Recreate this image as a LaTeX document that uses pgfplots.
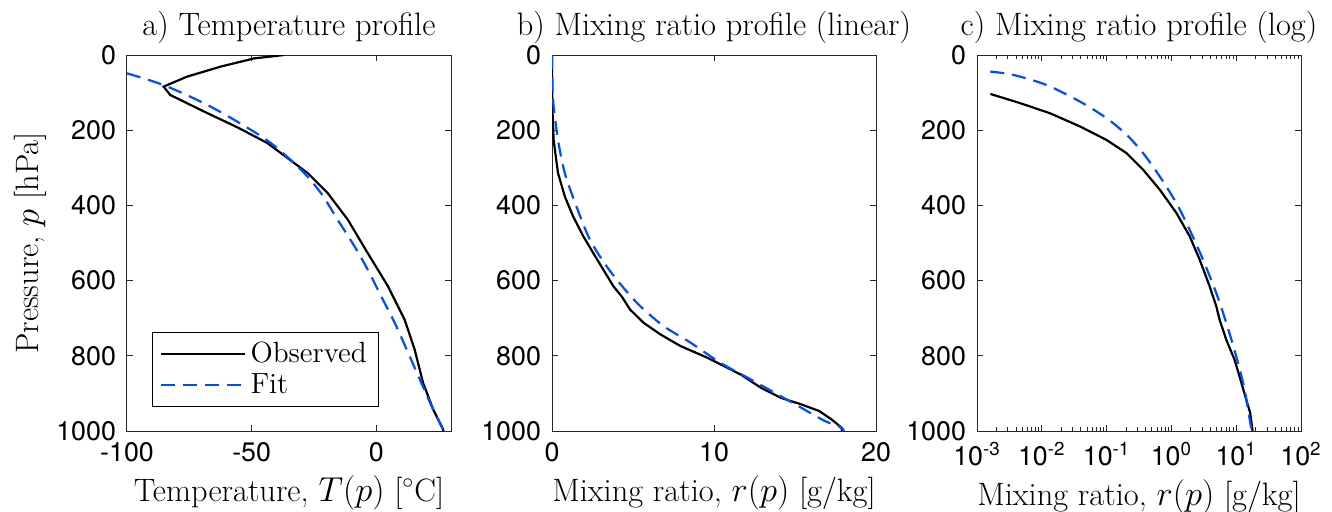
\documentclass[border=0pt]{standalone}
\usepackage{fontspec}
\usepackage{pgfplots}
\pgfplotsset{compat=1.18}
\newfontfamily\ticksf{TeX Gyre Heros}
\definecolor{fitblue}{RGB}{0,77,255}
\definecolor{axgray}{RGB}{38,38,38}
\pgfplotsset{
  prof/.style={
    scale only axis, width=162pt, height=188pt,
    ymin=0, ymax=1000, y dir=reverse,
    ytick={0,200,400,600,800,1000},
    /pgf/number format/assume math mode=true,
    /pgf/number format/1000 sep={},
    tick label style={font=\ticksf\fontsize{13.4}{15}\selectfont, color=black},
    xticklabel style={yshift=-2pt},
    yticklabel style={xshift=-2pt},
    label style={font=\fontsize{16.2}{19}\selectfont},
    title style={font=\fontsize{16.2}{19}\selectfont, yshift=-4pt},
    axis line style={draw=axgray, line width=0.5pt},
    tick style={draw=axgray, line width=0.5pt},
    major tick length=3pt, minor tick length=1.8pt,
    scaled ticks=false,
  },
  obs/.style={black, line width=1.1pt},
  fit/.style={fitblue, line width=1.1pt, dash pattern=on 7pt off 4pt},
}
\begin{document}
\begin{tikzpicture}
\begin{axis}[prof, name=a, at={(0pt,0pt)},
  xmin=-100, xmax=30, xtick={-100,-50,0},
  title={a) Temperature profile},
  xlabel={Temperature, $T(p)$ [$^\circ$C]},
  ylabel={Pressure, $p$ [hPa]},
  ylabel style={yshift=-2pt},
  legend style={at={(0.077,0.064)}, anchor=south west, draw=black,
    font=\fontsize{14.6}{17}\selectfont, inner xsep=4pt, inner ysep=3pt,
    row sep=0pt, cells={anchor=west}},
  legend image code/.code={\draw[#1] (0pt,0pt) -- (42pt,0pt);},
]
\addplot[obs] coordinates {
(-37,0) (-49,9) (-62.5,31) (-75.9,57.5) (-85.3,84) (-82.7,106)
(-69.2,150) (-55.8,192) (-43.7,234) (-35.6,274) (-27.5,314)
(-19.5,367) (-11.4,438) (-3.4,527) (4.7,615) (11.4,704)
(15.4,783) (18.8,872) (22.8,942) (26.5,991) (27,1000)};
\addlegendentry{Observed}
\addplot[fit, smooth] coordinates {
(-100,48.7) (-85.3,80) (-69.2,128) (-55.8,177) (-42.3,234)
(-30.2,305) (-22.2,367) (-15.5,438) (-8.7,509) (-3.4,571)
(2,642) (7.4,712) (12.8,792) (18.1,872) (22.8,942) (26.5,991) (27,1000)};
\addlegendentry{Fit}
\end{axis}

\begin{axis}[prof, name=b, at={(212.5pt,0pt)},
  xmin=0, xmax=20, xtick={0,10,20},
  title={b) Mixing ratio profile (linear)},
  xlabel={Mixing ratio, $r(p)$ [g/kg]},
]
\addplot[obs] coordinates {
(0,0) (0.02,137) (0.1,226) (0.37,314) (0.79,376) (1.3,429)
(1.93,482) (2.55,527) (3.17,571) (3.79,615) (4.3,642) (4.82,677)
(5.65,712) (6.69,743) (7.93,774) (9.59,805) (10.83,832) (11.66,850)
(12.9,885) (14.14,912) (15.38,929) (16.5,947) (17.25,969) (17.87,991) (17.9,1000)};
\addplot[fit, smooth] coordinates {
(0,0) (0.03,100) (0.1,137) (0.37,226) (0.79,314) (1.51,403) (2.34,491)
(3.37,562) (4.41,619) (5.45,668) (6.89,721) (8.55,765) (10.41,819)
(12.07,858) (13.73,898) (15.38,938) (16.83,973) (17.87,991) (18,1000)};
\end{axis}

\begin{axis}[prof, name=c, at={(425pt,0pt)},
  xmode=log, log basis x=10, xmin=1e-3, xmax=1e2,
  xtick={1e-3,1e-2,1e-1,1,1e1,1e2},
  minor xtick={2e-3,3e-3,4e-3,5e-3,6e-3,7e-3,8e-3,9e-3,
    2e-2,3e-2,4e-2,5e-2,6e-2,7e-2,8e-2,9e-2,
    0.2,0.3,0.4,0.5,0.6,0.7,0.8,0.9,2,3,4,5,6,7,8,9,
    20,30,40,50,60,70,80,90},
  xticklabels={10\textsuperscript{-3},10\textsuperscript{-2},10\textsuperscript{-1},10\textsuperscript{0},10\textsuperscript{1},10\textsuperscript{2}},
  title={c) Mixing ratio profile (log)},
  xlabel={Mixing ratio, $r(p)$ [g/kg]},
]
\addplot[obs] table[x expr={10^\thisrowno{0}}, y index=1] {
-2.795 103.5
-2.334 128
-1.872 155
-1.41 190
-1.0 226
-0.692 261
-0.437 305
-0.18 358
0.077 420
0.282 482
0.436 544
0.59 615
0.692 668
0.744 704
0.846 757
0.974 810
1.05 854
1.154 916
1.215 951
1.246 991
1.253 1000
};
\addplot[fit, smooth] table[x expr={10^\thisrowno{0}}, y index=1] {
-2.795 44
-2.437 53
-1.923 80
-1.41 124
-1.0 168
-0.692 212
-0.437 261
-0.18 323
0.077 394
0.282 465
0.487 544
0.692 633
0.846 712
1.0 801
1.128 889
1.23 991
1.255 1000
};
\end{axis}
\pgfresetboundingbox
\useasboundingbox ([xshift=-63.5pt,yshift=-40pt]a.south west) rectangle ++(666pt,255.5pt);
\end{tikzpicture}
\end{document}
